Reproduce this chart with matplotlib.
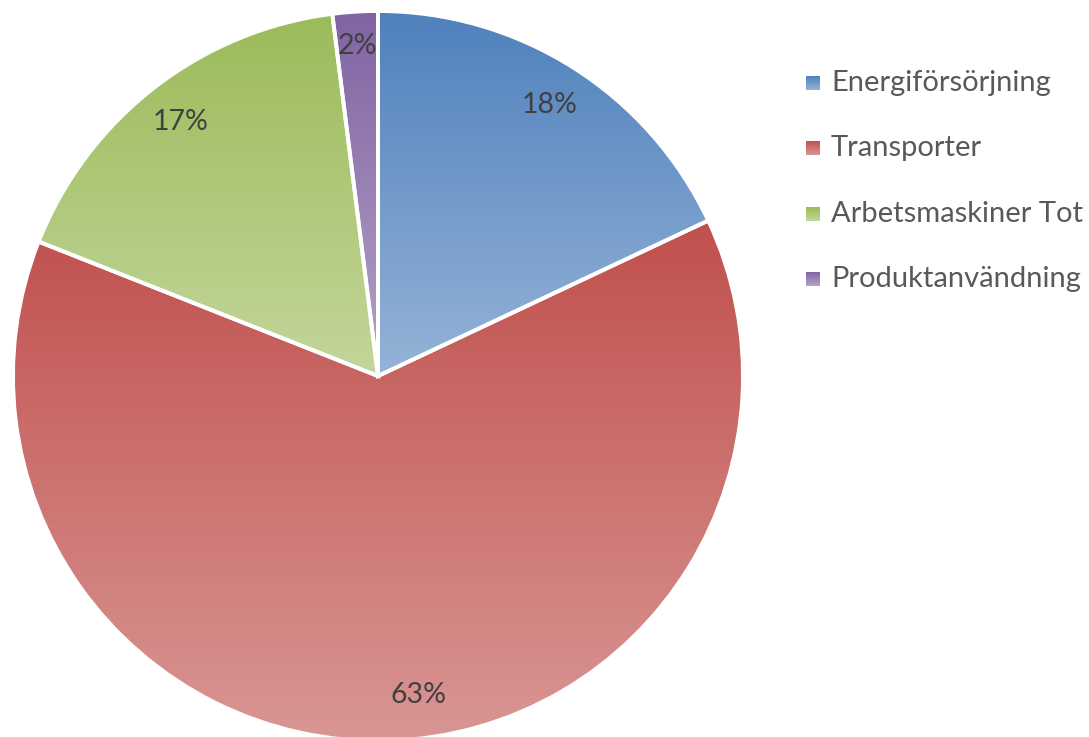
import matplotlib.pyplot as plt
import numpy as np
from matplotlib.colors import LinearSegmentedColormap

kategorier = ["Energiförsörjning", "Transporter", "Arbetsmaskiner Tot", "Produktanvändning"]
andelar = [18.0, 63.0, 17.0, 2.0]

# gradient per slice: mörk upptill, ljus nedtill
farger_topp = ["#4F81BD", "#C0504D", "#9BBB59", "#8064A2"]
farger_botten = ["#95B3D7", "#D99694", "#C3D69B", "#B3A2C7"]

plt.rcParams['font.family'] = ['Lato', 'DejaVu Sans']

fig = plt.figure(figsize=(10.89, 7.37), dpi=100)
ax = fig.add_axes([0, 0, 1, 1])

mitt = (378, 737 - 376)
radie = 365

wedges, texter, pct = ax.pie(andelar, startangle=90, counterclock=False, center=mitt, radius=radie,
                             autopct='%1.0f%%', pctdistance=0.88, labels=None,
                             wedgeprops=dict(edgecolor='white', linewidth=2.8),
                             textprops=dict(color='#404040', fontsize=20.5), frame=True)

gradient = np.linspace(0, 1, 256).reshape(-1, 1)
for i, w in enumerate(wedges):
    cmap = LinearSegmentedColormap.from_list("g%d" % i, [farger_topp[i], farger_botten[i]])
    bb = w.get_path().get_extents(w.get_patch_transform())
    im = ax.imshow(gradient, cmap=cmap, aspect='auto', origin='upper',
                   extent=[bb.x0, bb.x1, bb.y0, bb.y1], zorder=1)
    im.set_clip_path(w)
    w.set_facecolor('none')
    w.set_zorder(2)

for t in pct:
    t.set_zorder(3)
# små justeringar mot originalet
x, y = pct[1].get_position()
pct[1].set_position((x + 30, y + 2))
x, y = pct[3].get_position()
pct[3].set_position((x, y + 9))

# legend
for i, namn in enumerate(kategorier):
    yc = 737 - (83 + i * 65.3)
    cmap = LinearSegmentedColormap.from_list("l%d" % i, [farger_topp[i], farger_botten[i]])
    ax.imshow(gradient, cmap=cmap, aspect='auto', origin='upper',
              extent=[806, 820, yc - 7, yc + 7], zorder=2)
    ax.text(831, yc, namn, color='#595959', fontsize=21, va='center', ha='left')

ax.set_xlim(0, 1089)
ax.set_ylim(0, 737)
ax.set_aspect('equal')
ax.axis('off')
fig.savefig("out.png", dpi=100)
